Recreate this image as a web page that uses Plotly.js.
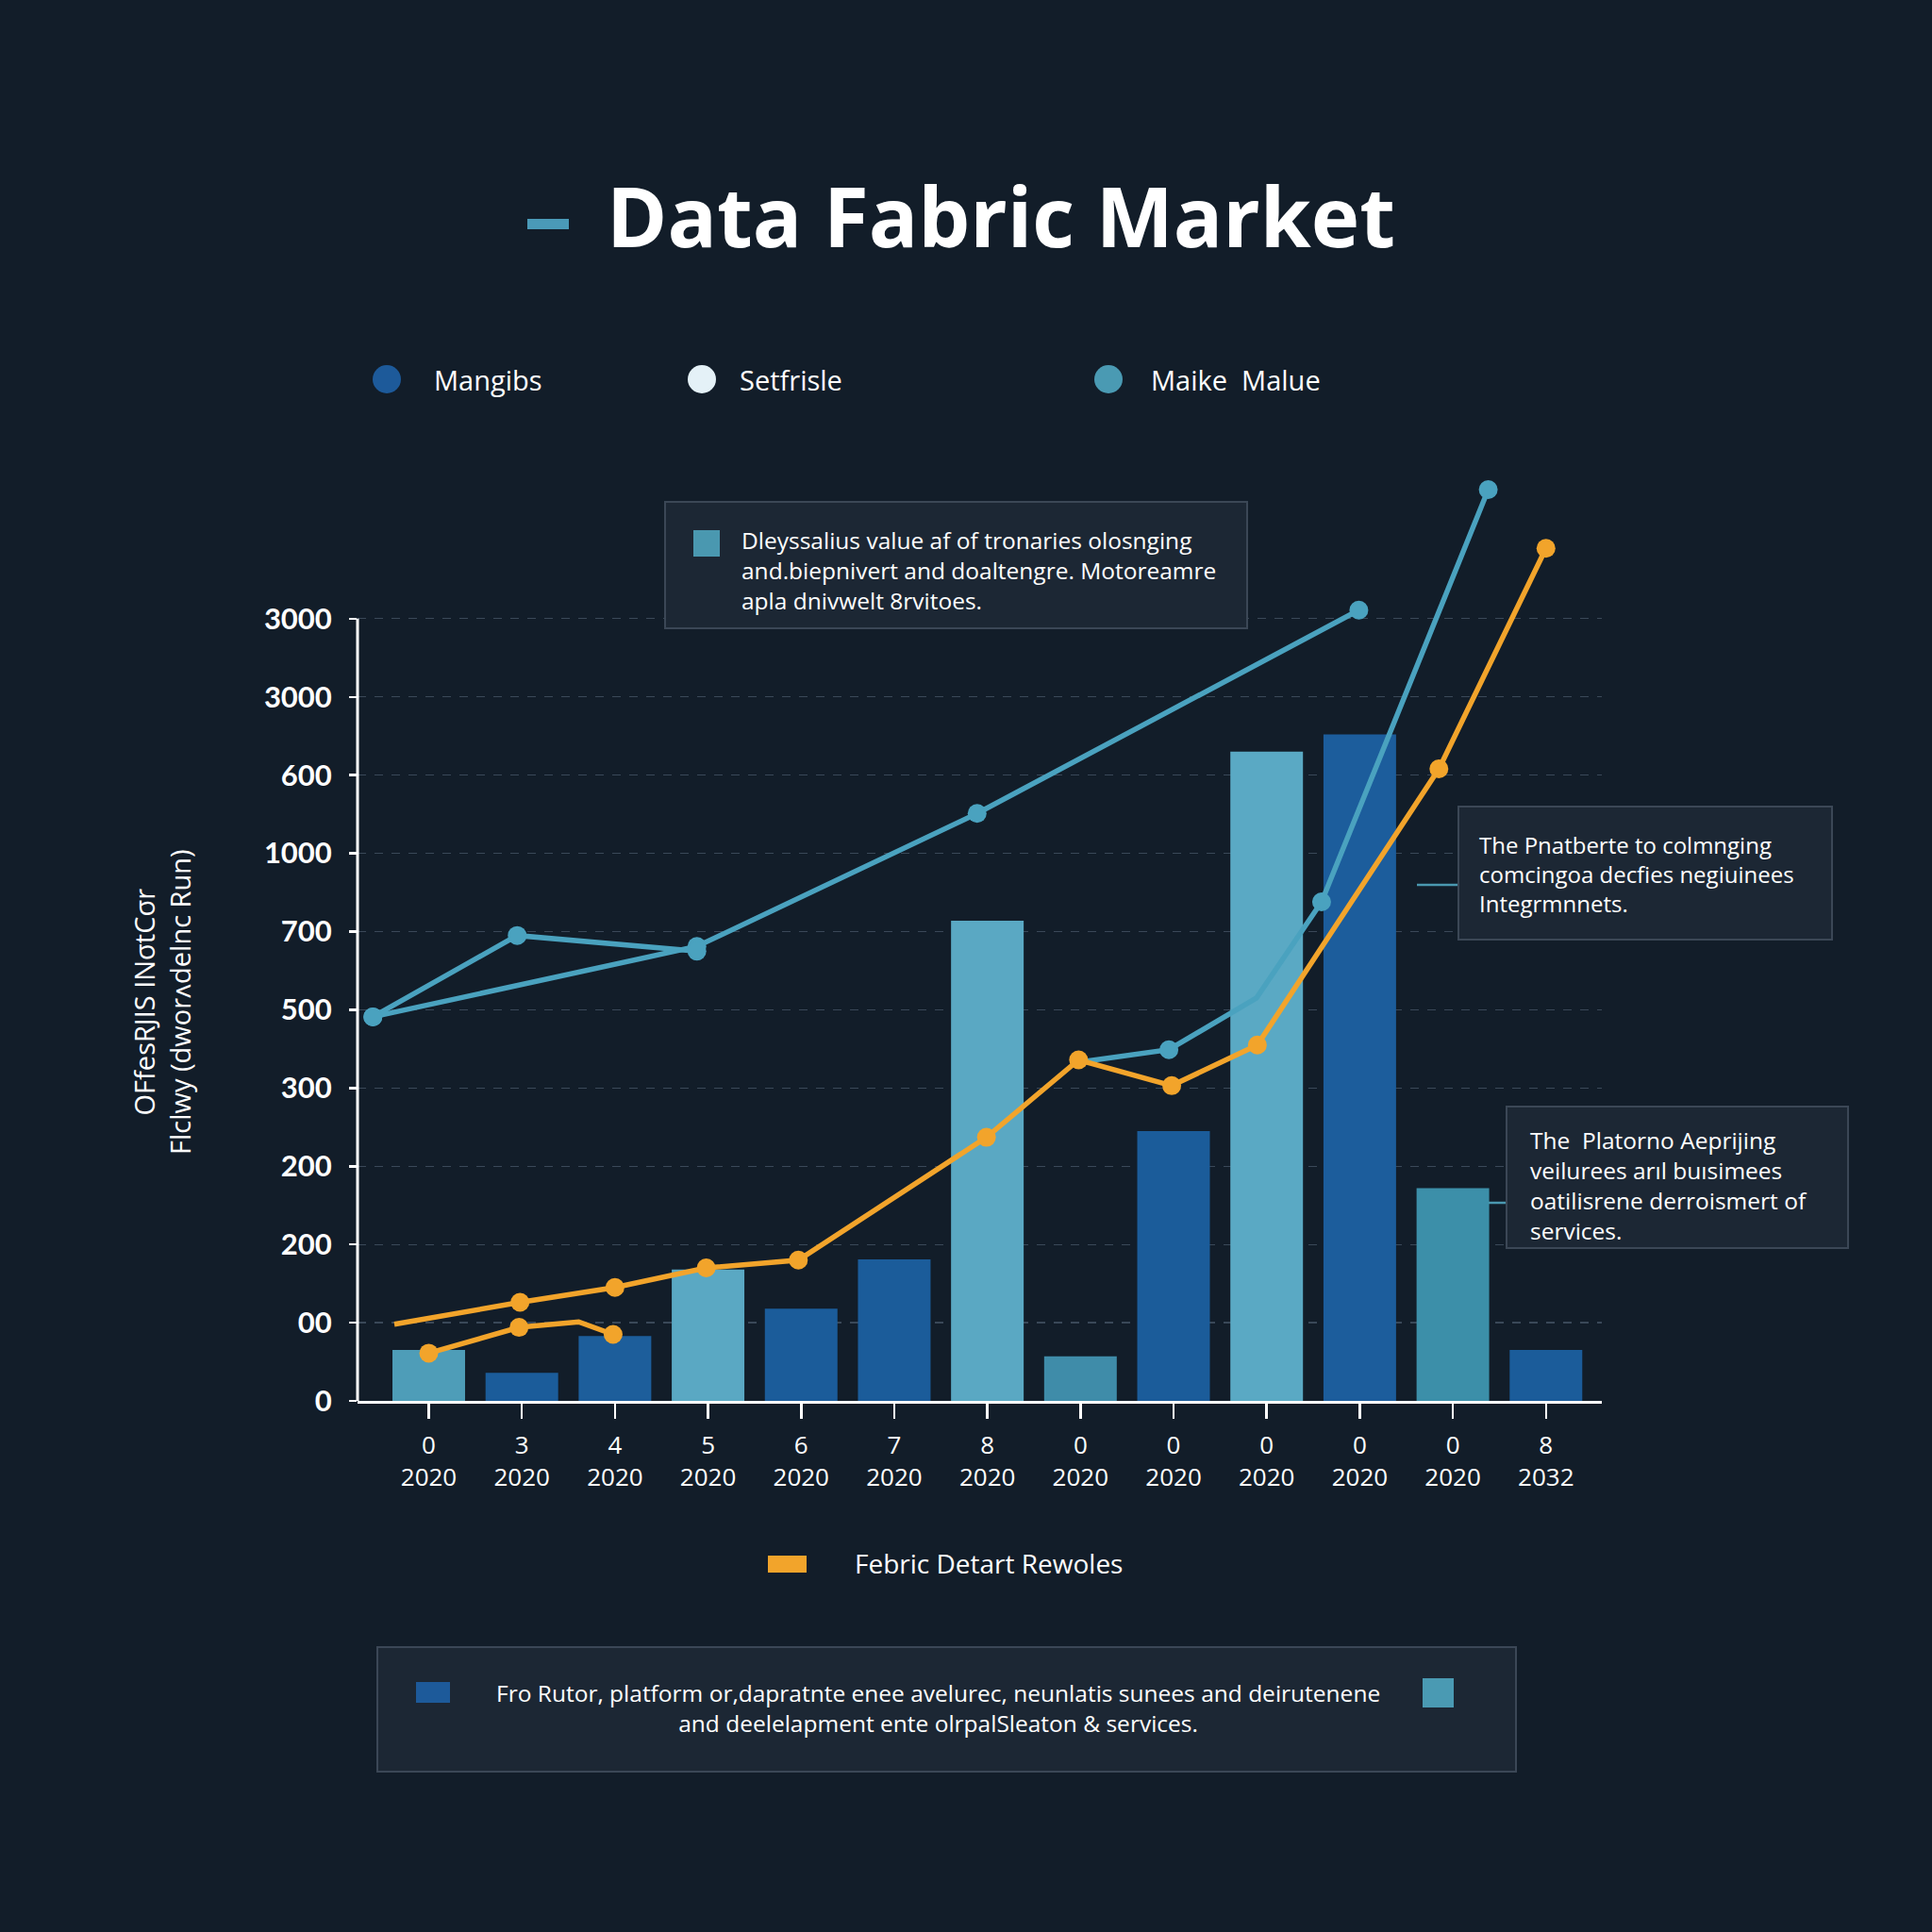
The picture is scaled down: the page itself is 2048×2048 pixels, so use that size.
<!DOCTYPE html>
<html>
<head>
<meta charset="utf-8">
<script src="https://cdn.plot.ly/plotly-3.0.1.min.js"></script>
<style>
html,body{margin:0;padding:0;background:#121d29;}
#chart{width:2048px;height:2048px;}
</style>
</head>
<body>
<div id="chart"></div>
<script>
// ---------- DATA ----------
const tickNumbers = ['0','3','4','5','6','7','8','0','0','0','0','0','8'];
const tickYears   = ['2020','2020','2020','2020','2020','2020','2020','2020','2020','2020','2020','2020','2032'];
const barValues   = [65, 36, 83, 168, 118, 181, 614, 57, 345, 830, 852, 272, 65];

const yTickVals   = [0, 100, 200, 300, 400, 500, 600, 700, 800, 900, 1000];
const yTickLabels = ['0', '00', '200', '200', '300', '500', '700', '1000', '600', '3000', '3000'];

const tealLineA_x = [-0.6, 0.95, 2.88];
const tealLineA_y = [491, 595, 575];
const tealLineB_x = [-0.6, 2.88, 5.89, 9.99];
const tealLineB_y = [491, 581, 751, 1011];
const tealLineC_x = [6.98, 7.95, 8.89, 9.59, 11.38];
const tealLineC_y = [433, 449, 515, 638, 1165];
const orangeLineA_x = [-0.37, 0.98, 2.0, 2.98, 3.97, 5.99, 6.98, 7.98, 8.90, 10.85, 12.0];
const orangeLineA_y = [98, 126, 145, 170, 180, 337, 436, 403, 455, 808, 1090];
const orangeLineB_x = [0, 0.97, 1.61, 1.98];
const orangeLineB_y = [61, 94, 101, 85];

const legendTop = ['Mangibs', 'Setfrisle', 'Maike  Malue'];
const legendBottom = 'Febric Detart Rewoles';
const titleText = 'Data Fabric Market';
const yTitleLines = ['OFfesRJIS INσtCσr', 'Flclwy (dworʌdelnc Run)'];
const note1 = ['Dleyssalius value af of tronaries olosnging', 'and.biepnivert and doaltengre. Motoreamre', 'apla dnivwelt 8rvitoes.'];
const note2 = ['The Pnatberte to colmnging', 'comcingoa decfies negiuinees', 'Integrmnnets.'];
const note3 = ['The  Platorno Aeprijing', 'veilurees arıl buısimees', 'oatilisrene derroismert of', 'services.'];
const note4 = ['Fro Rutor, platform or,dapratnte enee avelurec, neunlatis sunees and deirutenene', 'and deelelapment ente olrpalSleaton & services.'];

// ---------- STYLE ----------
const BG = '#121d29';
const TEAL = '#4aa2bf';
const ORANGE = '#f2a42b';
const DARKBLUE = '#1b5c9a';
const barColors = ['#4e9db8', DARKBLUE, '#1d5e9b', '#5aa8c3', DARKBLUE, DARKBLUE, '#5aa8c3', '#3f8ca9', DARKBLUE, '#5aa9c4', '#1c5d9c', '#3c8fa9', DARKBLUE];

const W = 2048, H = 2048, L = 379, R = 350, T = 490, B = 563;
const PW = W - L - R, PH = H - T - B, PB = H - B;
const px = x => (x - L) / PW;
const py = y => (PB - y) / PH;

const xIdx = tickNumbers.map((_, i) => i);
const xTickText = tickNumbers.map((n, i) => n + '<br>' + tickYears[i]);

const LW = 5.5, MS = 20;
function lineTrace(xs, ys, color, sizes) {
  return {type: 'scatter', mode: 'lines+markers', x: xs, y: ys,
    line: {color: color, width: LW},
    marker: {color: color, size: sizes, opacity: 1, line: {width: 0}},
    cliponaxis: false, showlegend: false, hoverinfo: 'skip'};
}

const traces = [
  {type: 'bar', x: xIdx, y: barValues, width: 0.78,
   marker: {color: barColors, line: {width: 0}}, hoverinfo: 'skip', showlegend: false},
  lineTrace(tealLineB_x, tealLineB_y, TEAL, MS),
  lineTrace(tealLineA_x, tealLineA_y, TEAL, MS),
  lineTrace(tealLineC_x, tealLineC_y, TEAL, [0, MS, 0, MS, MS]),
  lineTrace(orangeLineA_x, orangeLineA_y, ORANGE, [0, MS, MS, MS, MS, MS, MS, MS, MS, MS, MS]),
  lineTrace(orangeLineB_x, orangeLineB_y, ORANGE, [MS, MS, 0, MS])
];

const FONT = 'Open Sans, Lato, sans-serif';
const shapes = [];
const annotations = [];

// y axis line (only up to top tick)
shapes.push({type: 'line', xref: 'paper', yref: 'y', x0: 0, x1: 0, y0: 0, y1: yTickVals[yTickVals.length - 1],
  line: {color: '#ffffff', width: 3}, layer: 'above'});

// title dash
shapes.push({type: 'rect', xref: 'paper', yref: 'paper', x0: px(559), x1: px(603), y0: py(243), y1: py(232),
  fillcolor: '#4a9ab8', line: {width: 0}});

// top legend
const legColors = ['#1d5a9a', '#e4f1f7', '#4a9ab3'];
const legCx = [410, 744, 1175];
const legTx = [458, 782, 1218];
legendTop.forEach((t, i) => {
  shapes.push({type: 'circle', xref: 'paper', yref: 'paper', x0: px(legCx[i] - 15), x1: px(legCx[i] + 15), y0: py(417), y1: py(387),
    fillcolor: legColors[i], line: {width: 0}});
  annotations.push({xref: 'paper', yref: 'paper', x: px(legTx[i]), y: py(403), xanchor: 'left', yanchor: 'middle',
    text: t, showarrow: false, font: {family: FONT, size: 29, weight: 500, color: '#ffffff'}});
});

// bottom legend
shapes.push({type: 'rect', xref: 'paper', yref: 'paper', x0: px(814), x1: px(855), y0: py(1667), y1: py(1649),
  fillcolor: ORANGE, line: {width: 0}});
annotations.push({xref: 'paper', yref: 'paper', x: px(904), y: py(1657), xanchor: 'left', yanchor: 'middle',
  text: legendBottom, showarrow: false, font: {family: FONT, size: 28, weight: 500, color: '#ffffff'}});

// y axis title
annotations.push({xref: 'paper', yref: 'paper', x: px(171), y: py(1062), xanchor: 'center', yanchor: 'middle',
  textangle: -90, text: yTitleLines.join('<br>'), showarrow: false,
  font: {family: FONT, size: 29, color: '#ffffff'}});

// note boxes
function box(x0, y0, x1, y1) {
  shapes.push({type: 'rect', xref: 'paper', yref: 'paper', x0: px(x0), x1: px(x1), y0: py(y1), y1: py(y0),
    fillcolor: '#1c2734', line: {color: '#3b4756', width: 2}, layer: 'above'});
}
function note(lines, x, yTop, size, align) {
  annotations.push({xref: 'paper', yref: 'paper', x: px(x), y: py(yTop), xanchor: align === 'center' ? 'center' : 'left', yanchor: 'top',
    align: align || 'left', text: lines.join('<br>'), showarrow: false,
    font: {family: FONT, size: size, weight: 500, color: '#ffffff'}});
}
box(705, 532, 1322, 666);
shapes.push({type: 'rect', xref: 'paper', yref: 'paper', x0: px(735), x1: px(763), y0: py(590), y1: py(562),
  fillcolor: '#4a98b0', line: {width: 0}, layer: 'above'});
note(note1, 784, 554, 24.5);

shapes.push({type: 'line', xref: 'paper', yref: 'paper', x0: px(1502), x1: px(1546), y0: py(938), y1: py(938),
  line: {color: '#4a98b0', width: 2.5}, layer: 'above'});
box(1546, 855, 1942, 996);
note(note2, 1566, 877, 24);

shapes.push({type: 'line', xref: 'paper', yref: 'paper', x0: px(1578), x1: px(1597), y0: py(1275), y1: py(1275),
  line: {color: '#4a98b0', width: 2.5}, layer: 'above'});
box(1597, 1173, 1959, 1323);
note(note3, 1620, 1190, 24.5);

box(400, 1746, 1607, 1878);
shapes.push({type: 'rect', xref: 'paper', yref: 'paper', x0: px(441), x1: px(477), y0: py(1805), y1: py(1783),
  fillcolor: '#1d5a9a', line: {width: 0}, layer: 'above'});
shapes.push({type: 'rect', xref: 'paper', yref: 'paper', x0: px(1508), x1: px(1541), y0: py(1810), y1: py(1779),
  fillcolor: '#4a9ab3', line: {width: 0}, layer: 'above'});
note(note4, 994, 1776, 24.5, 'center');

const layout = {
  width: W, height: H,
  paper_bgcolor: BG, plot_bgcolor: BG,
  margin: {l: L, r: R, t: T, b: B, pad: 0},
  showlegend: false,
  title: {text: titleText, x: 1061 / 2048, xanchor: 'center', y: 1 - 232 / 2048, yanchor: 'middle',
    font: {family: FONT, size: 87, weight: 700, color: '#ffffff'}},
  xaxis: {range: [-0.765, 12.6], tickvals: xIdx, ticktext: xTickText, showgrid: false, zeroline: false,
    showline: true, linecolor: '#ffffff', linewidth: 3, ticks: 'outside', ticklen: 16, tickwidth: 2.5, tickcolor: '#ffffff',
    tickfont: {family: FONT, size: 26, weight: 500, color: '#ffffff'}, ticklabelstandoff: 6},
  yaxis: {range: [0, 1200], tickvals: yTickVals, ticktext: yTickLabels, showline: false, zeroline: false,
    showgrid: true, gridcolor: '#3a4858', gridwidth: 1.2, griddash: 'dash',
    ticks: 'outside', ticklen: 8, tickwidth: 2.5, tickcolor: '#ffffff', ticklabelstandoff: 12,
    tickfont: {family: 'Lato, Open Sans, sans-serif', size: 31, weight: 700, color: '#ffffff'}},
  bargap: 0.2,
  shapes: shapes,
  annotations: annotations
};

Plotly.newPlot('chart', traces, layout, {displayModeBar: false, staticPlot: true});
</script>
</body>
</html>
